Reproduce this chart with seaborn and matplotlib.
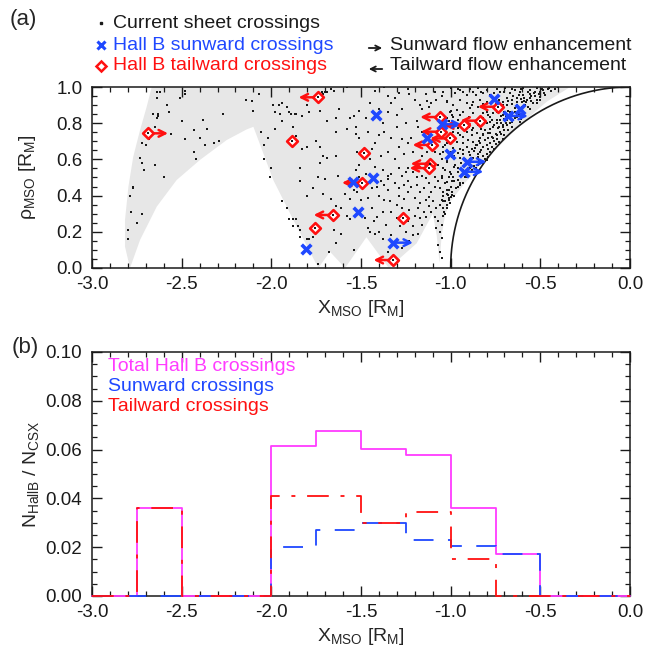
import numpy as np
import pandas as pd
import matplotlib
matplotlib.use("Agg")
import matplotlib.pyplot as plt
import seaborn as sns
from matplotlib.lines import Line2D
from matplotlib.patches import FancyArrowPatch
from matplotlib.ticker import MultipleLocator, FormatStrFormatter

sns.set_theme(style="ticks")
plt.rcParams["font.family"] = ["Liberation Sans", "DejaVu Sans"]
plt.rcParams["mathtext.fontset"] = "custom"
plt.rcParams["mathtext.rm"] = "Liberation Sans"
plt.rcParams["mathtext.it"] = "Liberation Sans:italic"
plt.rcParams["mathtext.bf"] = "Liberation Sans:bold"
plt.rcParams["axes.unicode_minus"] = False

# ---------------- data: panel (a) ----------------
# current sheet crossings (X_MSO, rho_MSO), read by region
cs_left = [(-2.64,0.97),(-2.62,0.97),(-2.64,0.94),(-2.48,0.98),(-2.48,0.96),(-2.51,0.94),(-2.58,0.90),
           (-2.57,0.86),(-2.66,0.85),(-2.63,0.85),(-2.63,0.84),(-2.64,0.83),(-2.50,0.81),(-2.38,0.82),
           (-2.27,0.85),(-2.36,0.77),(-2.43,0.76),(-2.65,0.78),(-2.56,0.74),(-2.68,0.71),(-2.72,0.69),
           (-2.70,0.68),(-2.48,0.71),(-2.40,0.72),(-2.37,0.68),(-2.32,0.69),(-2.29,0.70),(-2.73,0.61),
           (-2.72,0.58),(-2.71,0.54),(-2.65,0.57),(-2.43,0.64),(-2.42,0.60),(-2.60,0.50),(-2.77,0.45),
           (-2.77,0.44),(-2.79,0.40),(-2.78,0.31),(-2.72,0.30),(-2.75,0.25),(-2.80,0.21),(-2.80,0.16)]
cs_mid = [(-2.07,0.96),(-2.14,0.93),(-2.11,0.92),(-2.10,0.87),(-1.99,0.90),(-1.96,0.90),(-1.94,0.91),
          (-1.91,0.89),(-1.98,0.86),(-1.95,0.85),(-1.94,0.81),(-1.90,0.86),(-1.89,0.85),(-1.87,0.85),
          (-1.86,0.85),(-1.83,0.84),(-1.79,0.86),(-1.80,0.90),(-1.72,0.97),(-1.70,0.97),(-1.71,0.96),
          (-1.69,0.97),(-1.67,0.99),(-1.65,0.98),(-1.58,1.00),(-1.73,0.87),(-1.69,0.81),(-1.64,0.83),
          (-1.62,0.88),(-1.56,0.83),(-1.54,0.84),(-2.06,0.75),(-2.02,0.72),(-1.98,0.77),(-1.88,0.78),
          (-1.86,0.73),(-1.83,0.66),(-1.80,0.67),(-1.73,0.67),(-1.75,0.70),(-1.71,0.62),(-1.64,0.75),
          (-1.58,0.77),(-1.53,0.74),(-1.53,0.78),(-2.04,0.68),(-2.00,0.55),(-2.04,0.60),(-2.01,0.50),
          (-1.94,0.37),(-1.91,0.33),(-1.90,0.27),(-1.88,0.27),(-1.86,0.27),(-1.85,0.23),(-1.84,0.21),
          (-1.88,0.23),(-1.84,0.17),(-1.80,0.16),(-1.79,0.16),(-1.77,0.17),(-1.74,0.02),(-1.84,0.48),
          (-1.80,0.40),(-1.84,0.55),(-1.77,0.44),(-1.74,0.50),(-1.71,0.41),(-1.73,0.58),(-1.70,0.49),
          (-1.69,0.61),(-1.64,0.62),(-1.63,0.51),(-1.59,0.41),(-1.56,0.38),(-1.54,0.43),(-1.52,0.42),
          (-1.51,0.47),(-1.61,0.33),(-1.64,0.34),(-1.67,0.38),(-1.65,0.21),(-1.61,0.19),(-1.56,0.27),
          (-1.54,0.10),(-1.68,0.09),(-1.64,0.14),(-1.58,0.29),(-1.53,0.54),(-1.51,0.57)]
cs_center = [(-1.42,0.98),(-1.35,0.95),(-1.31,0.94),(-1.24,0.99),(-1.23,0.96),(-1.17,0.90),(-1.16,0.88),
             (-1.14,0.96),(-1.13,0.92),(-1.12,0.89),(-1.11,0.91),(-1.09,0.97),(-1.08,0.93),(-1.05,0.95),
             (-1.02,0.92),(-1.00,0.87),(-0.99,0.845),(-1.01,0.81),(-1.37,1.00),(-1.29,0.965),(-1.47,0.83),
             (-1.51,0.87),(-1.35,0.86),(-1.30,0.845),(-1.19,0.81),(-1.18,0.78),(-1.16,0.75),(-1.22,0.72),
             (-1.24,0.69),(-1.27,0.71),(-1.33,0.72),(-1.37,0.75),(-1.40,0.735),(-1.42,0.69),(-1.46,0.75),
             (-1.51,0.72),(-1.52,0.64),(-1.35,0.64),(-1.29,0.67),(-1.21,0.64),(-1.16,0.62),(-1.13,0.64),
             (-1.09,0.64),(-1.06,0.63),(-1.04,0.67),(-1.02,0.69),(-1.05,0.60),(-1.07,0.57),(-1.02,0.59),
             (-0.99,0.615),(-1.51,0.57),(-1.45,0.60),(-1.42,0.56),(-1.38,0.54),(-1.35,0.51),(-1.33,0.52),
             (-1.29,0.55),(-1.27,0.51),(-1.25,0.53),(-1.24,0.55),(-1.21,0.53),(-1.19,0.505),(-1.16,0.51),
             (-1.14,0.495),(-1.11,0.53),(-1.09,0.505),(-1.07,0.48),(-1.05,0.51),(-1.03,0.54),(-1.00,0.52),
             (-0.99,0.48),(-1.51,0.505),(-1.48,0.46),(-1.44,0.44),(-1.41,0.45),(-1.39,0.48),(-1.37,0.46),
             (-1.35,0.49),(-1.31,0.47),(-1.29,0.44),(-1.26,0.46),(-1.24,0.48),(-1.22,0.45),(-1.19,0.46),
             (-1.17,0.42),(-1.15,0.44),(-1.12,0.47),(-1.11,0.42),(-1.09,0.45),(-1.06,0.44),(-1.04,0.40),
             (-1.02,0.43),(-1.01,0.385),(-1.40,0.40),(-1.37,0.375),(-1.34,0.37),(-1.29,0.40),(-1.24,0.42),
             (-1.20,0.385),(-1.17,0.36),(-1.14,0.375),(-1.12,0.34),(-1.10,0.37),(-1.08,0.33),(-1.06,0.35),
             (-1.04,0.37),(-1.50,0.375),(-1.46,0.385),(-1.38,0.31),(-1.33,0.31),(-1.27,0.33),(-1.23,0.32),
             (-1.20,0.29),(-1.17,0.275),(-1.14,0.28),(-1.11,0.31),(-1.09,0.28),(-1.07,0.26),(-1.04,0.29),
             (-1.035,0.31),(-1.48,0.275),(-1.43,0.26),(-1.36,0.24),(-1.30,0.275),(-1.24,0.26),(-1.21,0.23),
             (-1.16,0.24),(-1.08,0.22),(-1.05,0.24),(-1.06,0.20),(-1.05,0.164),(-1.07,0.127),(-1.06,0.09),
             (-1.05,0.053),(-1.46,0.22),(-1.40,0.20),(-1.38,0.16),(-1.33,0.18),(-1.25,0.20),(-1.21,0.18),
             (-1.18,0.19),(-1.31,0.127),(-1.42,0.19),(-1.45,0.20),(-1.27,0.11),(-1.35,0.09),
             (-1.45,0.91),(-1.40,0.88),(-1.33,0.91),(-1.27,0.88),(-1.20,0.93),(-1.25,0.80),(-1.30,0.78),
             (-1.38,0.80),(-1.44,0.66),(-1.39,0.62),(-1.31,0.60),(-1.26,0.63),(-1.20,0.58),(-1.15,0.55),
             (-1.47,0.52),(-1.43,0.50),(-1.30,0.35),(-1.26,0.38),(-1.18,0.33),(-1.15,0.31),(-1.12,0.39),
             (-1.35,0.43),(-1.44,0.33),(-1.41,0.28),(-1.28,0.23),(-1.23,0.15),(-1.31,0.06)]
cs_right = [(-1.04,0.974),(-1.00,0.993),(-0.975,0.965),(-0.947,0.984),(-0.91,0.956),(-0.873,0.974),
            (-0.845,0.993),(-0.817,0.965),(-0.80,0.984),(-0.78,0.956),(-0.724,0.974),(-0.697,0.993),
            (-0.669,0.965),(-0.64,0.984),(-0.613,0.974),(-0.594,0.956),(-0.557,0.984),(-0.538,0.965),
            (-0.52,0.993),(-0.50,0.974),(-0.483,0.984),(-0.474,0.956),(-0.594,0.993),(-0.687,0.937),
            (-0.66,0.928),(-0.631,0.937),(-0.604,0.919),(-0.576,0.928),(-0.557,0.937),(-0.52,0.928),
            (-0.762,0.928),(-0.80,0.919),(-0.836,0.928),(-0.873,0.919),(-0.91,0.910),(-0.947,0.928),
            (-0.985,0.900),(-1.022,0.919),(-1.003,0.864),(-0.966,0.873),(-0.947,0.845),(-0.892,0.882),
            (-0.873,0.855),(-0.80,0.864),(-0.78,0.836),(-0.762,0.855),(-0.724,0.873),(-0.706,0.845),
            (-0.687,0.818),(-0.669,0.864),(-0.641,0.882),(-0.631,0.836),(-0.613,0.808),(-0.706,0.900),
            (-0.687,0.900),(-0.585,0.900),(-1.022,0.827),(-0.985,0.836),(-0.975,0.790),(-0.817,0.827),
            (-0.80,0.799),(-0.78,0.808),(-0.762,0.781),(-0.743,0.799),(-0.724,0.818),(-0.734,0.772),
            (-0.706,0.781),(-0.687,0.790),(-0.669,0.799),(-0.985,0.753),(-0.957,0.772),(-0.947,0.735),
            (-0.91,0.753),(-0.882,0.735),(-0.873,0.772),(-0.855,0.744),(-0.836,0.716),(-0.817,0.735),
            (-0.808,0.763),(-0.78,0.744),(-0.762,0.716),(-0.743,0.735),(-0.724,0.753),(-0.78,0.689),
            (-0.80,0.679),(-0.836,0.689),(-0.873,0.698),(-0.901,0.707),(-0.929,0.689),(-0.966,0.698),
            (-1.003,0.716),(-1.031,0.679),(-1.04,0.643),(-0.985,0.661),(-0.957,0.634),(-0.929,0.652),
            (-0.892,0.624),(-0.864,0.661),(-0.855,0.679),(-0.836,0.643),(-0.817,0.670),(-0.947,0.606),
            (-0.975,0.569),(-1.022,0.587),(-0.873,0.606),(-0.845,0.615),(-1.04,0.551),(-1.003,0.532),
            (-0.985,0.505),(-0.957,0.486),(-0.929,0.541),(-0.91,0.505),(-0.885,0.53),(-0.947,0.459),
            (-1.022,0.477),(-1.05,0.495),(-1.04,0.422),(-1.013,0.403),(-1.05,0.376),(-1.003,0.357),
            (-1.022,0.329),(-1.01,0.376),(-0.995,0.403)]
cs_dense = [(-0.55,0.95),(-0.53,0.95),(-0.57,0.97),(-0.62,0.955),(-0.65,0.95),(-0.58,0.915),(-0.60,0.89),
            (-0.62,0.87),(-0.64,0.86),(-0.66,0.85),(-0.65,0.82),(-0.67,0.83),(-0.69,0.80),(-0.70,0.76),
            (-0.72,0.74),(-0.71,0.79),(-0.74,0.71),(-0.76,0.70),(-0.75,0.74),(-0.77,0.67),(-0.79,0.66),
            (-0.80,0.63),(-0.82,0.62),(-0.81,0.60),(-0.84,0.59),(-0.85,0.57),(-0.86,0.55),(-0.88,0.54),
            (-0.83,0.65),(-0.79,0.72),(-0.73,0.78),(-0.69,0.84),(-0.63,0.90),(-0.59,0.94),(-0.51,0.96),
            (-0.46,0.99),(-0.44,0.98),(-0.42,0.99),(-0.40,1.0),(-0.48,0.965),(-0.50,0.945),(-0.54,0.91),
            (-0.56,0.88),(-0.68,0.87),(-0.70,0.86),(-0.72,0.84),(-0.74,0.82),(-0.76,0.79),(-0.78,0.77),
            (-0.82,0.74),(-0.84,0.70),(-0.86,0.68),(-0.88,0.66),(-0.90,0.64),(-0.92,0.60),(-0.94,0.58),
            (-0.96,0.55),(-0.92,0.50),(-0.95,0.47),(-0.97,0.44),(-0.99,0.42),(-0.98,0.48),(-1.00,0.45),
            (-1.02,0.41),(-1.03,0.37),(-1.04,0.33),
            (-0.61,0.99),(-0.66,0.99),(-0.70,0.975),(-0.74,0.99),(-0.76,0.965),(-0.83,0.975),(-0.86,0.955),
            (-0.89,0.99),(-0.93,0.97),(-0.96,0.99),(-0.45,0.995),(-0.49,0.99),(-0.53,0.975),(-0.56,0.96),
            (-0.50,0.93),(-0.52,0.91),(-0.55,0.925),(-0.59,0.92),(-0.61,0.935),(-0.63,0.915),(-0.66,0.905),
            (-0.68,0.92),(-0.71,0.915),(-0.73,0.93),(-0.75,0.905),(-0.78,0.89),(-0.82,0.905),(-0.85,0.89),
            (-0.88,0.90),(-0.57,0.89),(-0.60,0.875),(-0.59,0.84),(-0.61,0.825),(-0.62,0.85),(-0.64,0.83),
            (-0.66,0.805),(-0.70,0.825),(-0.72,0.80),(-0.74,0.86),(-0.77,0.82),(-0.79,0.845),(-0.82,0.855),
            (-0.84,0.83),(-0.86,0.81),(-0.90,0.835),(-0.93,0.86),(-0.96,0.82),(-0.66,0.78),(-0.68,0.765),
            (-0.70,0.735),(-0.71,0.71),(-0.73,0.695),(-0.75,0.685),(-0.77,0.725),(-0.79,0.745),(-0.81,0.705),
            (-0.83,0.77),(-0.85,0.79),(-0.88,0.76),(-0.90,0.78),(-0.93,0.725),(-0.96,0.745),(-0.99,0.73),
            (-0.76,0.655),(-0.78,0.64),(-0.79,0.615),(-0.80,0.595),(-0.82,0.58),(-0.85,0.63),(-0.87,0.645),
            (-0.89,0.60),(-0.91,0.67),(-0.93,0.63),(-0.95,0.655),(-0.98,0.62),(-1.00,0.64),(-0.87,0.565),
            (-0.89,0.555),(-0.90,0.575),(-0.92,0.525),(-0.94,0.51),(-0.96,0.53),(-0.98,0.56),(-1.01,0.50),
            (-1.03,0.47),(-0.93,0.47),(-0.96,0.45),(-0.98,0.40),(-1.00,0.39),(-1.02,0.35),(-1.01,0.43),
            (-1.03,0.30)]

# Hall B sunward crossings; arrow: +1 sunward flow enhancement, 0 none
sun_x = [-1.807, -1.545, -1.515, -1.435, -1.416, -1.320, -1.134, -1.050, -1.004, -0.911, -0.928, -0.757, -0.679, -0.613]
sun_y = [0.103, 0.477, 0.310, 0.499, 0.845, 0.140, 0.718, 0.794, 0.628, 0.587, 0.532, 0.934, 0.840, 0.878]
sun_arrow = [0, 0, 0, 0, 0, 1, 0, 1, 0, 1, 1, 0, 1, 0]

# Hall B tailward crossings; arrow: -1 tailward, +1 sunward, 0 none
tail_x = [-2.686, -1.883, -1.756, -1.654, -1.738, -1.496, -1.483, -1.264, -1.320, -1.113, -1.119,
          -1.102, -1.004, -1.056, -1.060, -0.927, -0.836, -0.738]
tail_y = [0.744, 0.702, 0.223, 0.293, 0.943, 0.471, 0.637, 0.274, 0.044, 0.576, 0.552,
          0.680, 0.716, 0.753, 0.834, 0.788, 0.814, 0.891]
tail_arrow = [1, 0, 0, -1, -1, -1, 0, 0, -1, -1, -1, -1, -1, -1, -1, -1, -1, -1]

# orbit coverage region (grey), boundary vertices
cover_x = [-2.667, -0.334, -0.464, -0.594, -0.724, -0.836, -0.929, -1.003, -1.031, -1.050, -1.062,
           -1.078, -1.100, -1.190, -1.345, -1.470, -1.589, -1.673, -1.738, -1.877, -1.989, -2.100,
           -2.137, -2.249, -2.398, -2.528, -2.639, -2.732, -2.788, -2.816, -2.816, -2.797, -2.770,
           -2.732, -2.695]
cover_y = [1.0, 1.0, 0.919, 0.808, 0.680, 0.569, 0.459, 0.366, 0.293, 0.182, 0.030,
           0.182, 0.300, 0.136, 0.0, 0.170, 0.0, 0.090, 0.0, 0.265, 0.486, 0.780,
           0.766, 0.707, 0.597, 0.486, 0.339, 0.155, 0.0, 0.118, 0.265, 0.449, 0.615,
           0.762, 0.891]

# ---------------- data: panel (b) ----------------
bin_edges = [-3.0, -2.75, -2.5, -2.25, -2.0, -1.75, -1.5, -1.25, -1.0, -0.75, -0.5, -0.25, 0.0]
total_frac = [0.0, 0.036, 0.0, 0.0, 0.0613, 0.0678, 0.0602, 0.0577, 0.0361, 0.0172, 0.0, 0.0]
sun_frac = [0.0, 0.0, 0.0, 0.0, 0.0202, 0.0270, 0.0300, 0.0230, 0.0205, 0.0172, 0.0, 0.0]
tail_frac = [0.0, 0.036, 0.0, 0.0, 0.0410, 0.0408, 0.0300, 0.0344, 0.0153, 0.0, 0.0, 0.0]

BLUE = "#1f48ff"
RED = "#ff1010"
MAGENTA = "#ff3cff"
GREY = "#e7e7e7"
ARROW_LEN = 0.11

W, H = 650, 649
fig = plt.figure(figsize=(W / 100, H / 100), dpi=100)
fig.patch.set_facecolor("white")
ax1 = fig.add_axes([92 / W, 1 - 268 / H, 538 / W, 181 / H])
ax2 = fig.add_axes([92 / W, 1 - 596 / H, 538 / W, 244 / H])
for ax in (ax1, ax2):
    ax.set_facecolor("white")

# ---- panel (a) ----
ax1.fill(cover_x, cover_y, color=GREY, lw=0, zorder=0)
pts = cs_left + cs_mid + cs_center + cs_right + cs_dense
dots = pd.DataFrame(pts, columns=["x", "y"])
sns.scatterplot(data=dots, x="x", y="y", ax=ax1, color="k", marker="s", s=3.2,
                linewidth=0, zorder=2, legend=False)
yy = np.linspace(0, 1, 300)
ax1.plot(-np.sqrt(1 - yy ** 2), yy, color="k", lw=1.2, zorder=3)

for x, y, d in zip(tail_x, tail_y, tail_arrow):
    if d != 0:
        ax1.annotate("", xy=(x + d * ARROW_LEN, y), xytext=(x, y),
                     arrowprops=dict(arrowstyle="->", color=RED, lw=1.8, shrinkA=0, shrinkB=0,
                                     mutation_scale=12), zorder=4)
for x, y, d in zip(sun_x, sun_y, sun_arrow):
    if d != 0:
        ax1.annotate("", xy=(x + d * ARROW_LEN, y), xytext=(x, y),
                     arrowprops=dict(arrowstyle="->", color=BLUE, lw=1.8, shrinkA=0, shrinkB=0,
                                     mutation_scale=12), zorder=4)

ax1.scatter(tail_x, tail_y, marker="D", s=30, facecolors="white", edgecolors=RED, linewidths=1.9, zorder=5)
ax1.scatter(tail_x, tail_y, marker="s", s=3.2, color="k", linewidths=0, zorder=6)
sns.scatterplot(x=sun_x, y=sun_y, ax=ax1, marker="x", s=48, color=BLUE, linewidth=2.6,
                zorder=6, legend=False)

ax1.set_xlim(-3.0, 0.0)
ax1.set_ylim(0.0, 1.0)
ax1.xaxis.set_major_locator(MultipleLocator(0.5))
ax1.xaxis.set_minor_locator(MultipleLocator(0.1))
ax1.yaxis.set_major_locator(MultipleLocator(0.2))
ax1.yaxis.set_minor_locator(MultipleLocator(0.05))
ax1.xaxis.set_major_formatter(FormatStrFormatter("%.1f"))
ax1.yaxis.set_major_formatter(FormatStrFormatter("%.1f"))
ax1.set_xlabel(r"X$_{\rm MSO}$ [R$_{\rm M}$]", fontsize=14)
ax1.set_ylabel(r"ρ$_{\rm MSO}$ [R$_{\rm M}$]", fontsize=14)
ax1.xaxis.set_label_coords(0.5, -0.165)
ax1.yaxis.set_label_coords(-0.100, 0.5)

# ---- panel (b) ----
def stair(vals):
    return list(vals) + [vals[-1]]

sns.lineplot(x=bin_edges, y=stair(total_frac), ax=ax2, drawstyle="steps-post", color=MAGENTA,
             lw=1.3, estimator=None, sort=False, zorder=3, clip_on=False)
sns.lineplot(x=bin_edges, y=stair(sun_frac), ax=ax2, drawstyle="steps-post", color=BLUE,
             lw=1.3, estimator=None, sort=False, zorder=4, clip_on=False, linestyle=(0, (11, 8)))
sns.lineplot(x=bin_edges, y=stair(tail_frac), ax=ax2, drawstyle="steps-post", color=RED,
             lw=1.3, estimator=None, sort=False, zorder=5, clip_on=False,
             linestyle=(0, (12, 6.5, 2.2, 6.5)))

ax2.set_xlim(-3.0, 0.0)
ax2.set_ylim(0.0, 0.1)
ax2.xaxis.set_major_locator(MultipleLocator(0.5))
ax2.xaxis.set_minor_locator(MultipleLocator(0.1))
ax2.yaxis.set_major_locator(MultipleLocator(0.02))
ax2.yaxis.set_minor_locator(MultipleLocator(0.005))
ax2.xaxis.set_major_formatter(FormatStrFormatter("%.1f"))
ax2.yaxis.set_major_formatter(FormatStrFormatter("%.2f"))
ax2.set_xlabel(r"X$_{\rm MSO}$ [R$_{\rm M}$]", fontsize=14)
ax2.set_ylabel(r"N$_{\rm HallB}$ / N$_{\rm CSX}$", fontsize=14)
ax2.xaxis.set_label_coords(0.5, -0.123)
ax2.yaxis.set_label_coords(-0.095, 0.5)

lx = (108 - 92) / 538
ax2.text(lx, 1 - (367 - 352) / 244, "Total Hall B crossings", color=MAGENTA, fontsize=14,
         transform=ax2.transAxes, va="center", ha="left")
ax2.text(lx, 1 - (387 - 352) / 244, "Sunward crossings", color=BLUE, fontsize=14,
         transform=ax2.transAxes, va="center", ha="left")
ax2.text(lx, 1 - (407 - 352) / 244, "Tailward crossings", color=RED, fontsize=14,
         transform=ax2.transAxes, va="center", ha="left")

for ax in (ax1, ax2):
    ax.tick_params(which="both", direction="in", top=True, right=True, colors="k", labelsize=13.5)
    ax.tick_params(which="major", length=7, width=1.0)
    ax.tick_params(which="minor", length=3.5, width=0.9)
    ax.tick_params(axis="x", pad=6)
    ax.tick_params(axis="y", pad=7)
    for sp in ax.spines.values():
        sp.set_color("k")
        sp.set_linewidth(1.1)
    ax.grid(False)

# ---- figure-level labels / legend ----
def fx(px):
    return px / W

def fy(py):
    return 1 - py / H

fig.text(fx(10), fy(19), "(a)", fontsize=16, va="center", ha="left")
fig.text(fx(12), fy(348), "(b)", fontsize=16, va="center", ha="left")

fig.add_artist(Line2D([fx(101)], [fy(23)], marker="s", markersize=1.5, color="k", lw=0,
                      transform=fig.transFigure))
fig.add_artist(Line2D([fx(101)], [fy(45)], marker="x", markersize=6, markeredgewidth=2.2,
                      color=BLUE, lw=0, transform=fig.transFigure))
fig.add_artist(Line2D([fx(101)], [fy(66)], marker="D", markersize=5, markeredgewidth=1.8,
                      markerfacecolor="none", markeredgecolor=RED, lw=0, transform=fig.transFigure))
fig.text(fx(113), fy(23), "Current sheet crossings", fontsize=14, va="center", ha="left", color="k")
fig.text(fx(113), fy(45), "Hall B sunward crossings", fontsize=14, va="center", ha="left", color=BLUE)
fig.text(fx(113), fy(66), "Hall B tailward crossings", fontsize=14, va="center", ha="left", color=RED)

fig.add_artist(FancyArrowPatch((fx(366), fy(48)), (fx(385), fy(48)), transform=fig.transFigure,
                               arrowstyle="->", mutation_scale=9, lw=1.3, color="k"))
fig.add_artist(FancyArrowPatch((fx(385), fy(69)), (fx(366), fy(69)), transform=fig.transFigure,
                               arrowstyle="->", mutation_scale=9, lw=1.3, color="k"))
fig.text(fx(390), fy(45), "Sunward flow enhancement", fontsize=14, va="center", ha="left", color="k")
fig.text(fx(390), fy(66), "Tailward flow enhancement", fontsize=14, va="center", ha="left", color="k")

fig.savefig("out.png", dpi=100, facecolor="white")
